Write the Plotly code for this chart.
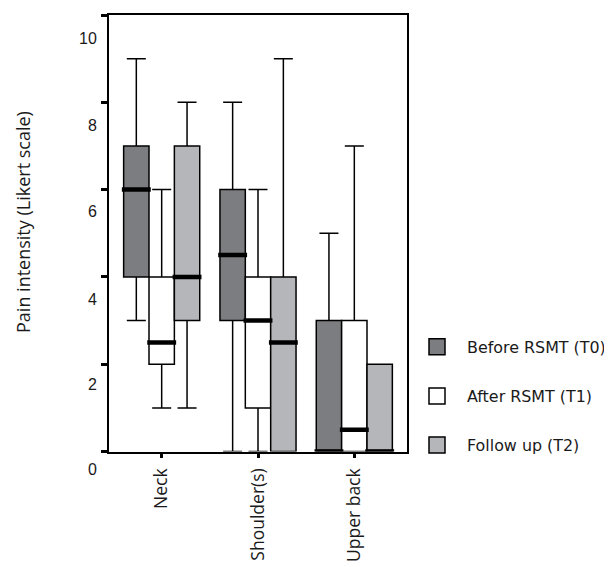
import plotly.graph_objects as go

# ---------------- data ----------------
CATEGORIES = ["Neck", "Shoulder(s)", "Upper back"]
SERIES = ["Before RSMT (T0)", "After RSMT (T1)", "Follow up (T2)"]

T0_LOW = [3, 0, 0]
T0_Q1 = [4, 3, 0]
T0_MED = [6, 4.5, 0]
T0_Q3 = [7, 6, 3]
T0_HIGH = [9, 8, 5]

T1_LOW = [1, 0, 0]
T1_Q1 = [2, 1, 0]
T1_MED = [2.5, 3, 0.5]
T1_Q3 = [4, 4, 3]
T1_HIGH = [6, 6, 7]

T2_LOW = [1, 0, 0]
T2_Q1 = [3, 0, 0]
T2_MED = [4, 2.5, 0]
T2_Q3 = [7, 4, 2]
T2_HIGH = [8, 9, 2]

Y_TICKS = [0, 2, 4, 6, 8, 10]
Y_TICK_LABELS = ["0", "2", "4", "6", "8", "10"]
Y_LABEL_POS = [-0.4, 1.53, 3.48, 5.5, 7.48, 9.46]

Y_TITLE = "Pain intensity (Likert scale)"

# ---------------- style ----------------
FILLS = ["#7c7d81", "#ffffff", "#b5b6ba"]
BOXGAP = 0.21
MED_HALF = 0.15
LINE_W = 1.5

stats = [
    (T0_LOW, T0_Q1, T0_MED, T0_Q3, T0_HIGH),
    (T1_LOW, T1_Q1, T1_MED, T1_Q3, T1_HIGH),
    (T2_LOW, T2_Q1, T2_MED, T2_Q3, T2_HIGH),
]

fig = go.Figure()

n = len(SERIES)
bw = (1 - BOXGAP) / n
for i, (name, fill, (lo, q1, med, q3, hi)) in enumerate(zip(SERIES, FILLS, stats)):
    fig.add_trace(go.Box(
        x=CATEGORIES, q1=q1, median=med, q3=q3,
        lowerfence=lo, upperfence=hi,
        name=name, fillcolor=fill,
        line=dict(color="black", width=LINE_W),
        whiskerwidth=0.75, boxpoints=False,
        showlegend=False, hoverinfo="skip",
    ))

for i, (name, fill, (lo, q1, med, q3, hi)) in enumerate(zip(SERIES, FILLS, stats)):
    off = (i - (n - 1) / 2) * bw
    xs, ys = [], []
    for c, m in enumerate(med):
        xs += [c + off - MED_HALF, c + off + MED_HALF, None]
        ys += [m, m, None]
    fig.add_trace(go.Scatter(
        x=xs, y=ys, mode="lines", xaxis="x2", yaxis="y",
        line=dict(color="black", width=4.5),
        showlegend=False, hoverinfo="skip",
    ))

# legend entries (no data) – placed on y2 so that axis is drawn
for i, (name, fill) in enumerate(zip(SERIES, FILLS)):
    fig.add_trace(go.Scatter(
        x=[None], y=[None], mode="markers", xaxis="x", yaxis="y2",
        name=name, legendgroup=name,
        marker=dict(symbol="square", size=16, color=fill,
                    line=dict(color="black", width=1.5)),
    ))

# layout geometry (figure coordinates)
W, H = 612, 559
ML, MR, MT, MB = 101, 213, 5, 80
Y0_PX = 450                      # pixel of y = 0 in figure coords
plot_w = W - ML - MR
plot_h = H - MT - MB
y0_frac = (H - MB - Y0_PX) / plot_h
units_per_px = 10 / (Y0_PX - MT)
y2_lo = -((H - MB) - Y0_PX) * units_per_px

XR = [-0.547, 2.547]

fig.update_layout(
    width=W, height=H,
    margin=dict(l=ML, r=MR, t=MT, b=MB),
    paper_bgcolor="white", plot_bgcolor="rgba(0,0,0,0)",
    boxmode="group", boxgap=BOXGAP, boxgroupgap=0,
    showlegend=True,
    legend=dict(
        x=(399 - ML) / plot_w, xanchor="left",
        y=(H - MB - 326) / plot_h, yanchor="top",
        font=dict(family="DejaVu Sans", size=15.9, color="#1a1a1a"),
        itemwidth=50, tracegroupgap=25.5,
        bgcolor="rgba(0,0,0,0)",
    ),
    xaxis=dict(
        type="category", range=XR, anchor="y",
        showline=True, linecolor="black", linewidth=LINE_W, mirror=True,
        ticks="outside", ticklen=5, tickwidth=3, tickcolor="black",
        tickangle=-90, ticklabelstandoff=3,
        tickfont=dict(family="Open Sans", size=17.5, color="#1a1a1a"),
        showgrid=False, zeroline=False,
    ),
    xaxis2=dict(overlaying="x", range=XR, visible=False, anchor="y"),
    yaxis=dict(
        domain=[y0_frac, 1], range=[0, 10],
        tickvals=Y_TICKS, showticklabels=False,
        ticks="outside", ticklen=6, tickwidth=3, tickcolor="black",
        showline=True, linecolor="black", linewidth=LINE_W, mirror=True,
        showgrid=False, zeroline=False,
    ),
    yaxis2=dict(
        domain=[0, 1], range=[y2_lo, 10], anchor="x", side="left",
        tickvals=Y_LABEL_POS, ticktext=Y_TICK_LABELS,
        ticks="outside", ticklen=8, tickcolor="rgba(0,0,0,0)",
        tickfont=dict(family="Liberation Sans", size=16, color="#1a1a1a"),
        showline=False, showgrid=False, zeroline=False,
    ),
    annotations=[dict(
        text=Y_TITLE, textangle=-90, showarrow=False,
        xref="paper", yref="paper",
        x=(15 - ML) / plot_w, y=(H - MB - 216) / plot_h,
        xanchor="center", yanchor="middle",
        font=dict(family="Open Sans", size=18, color="#1a1a1a"),
    )],
)

fig.write_html("out.html")
